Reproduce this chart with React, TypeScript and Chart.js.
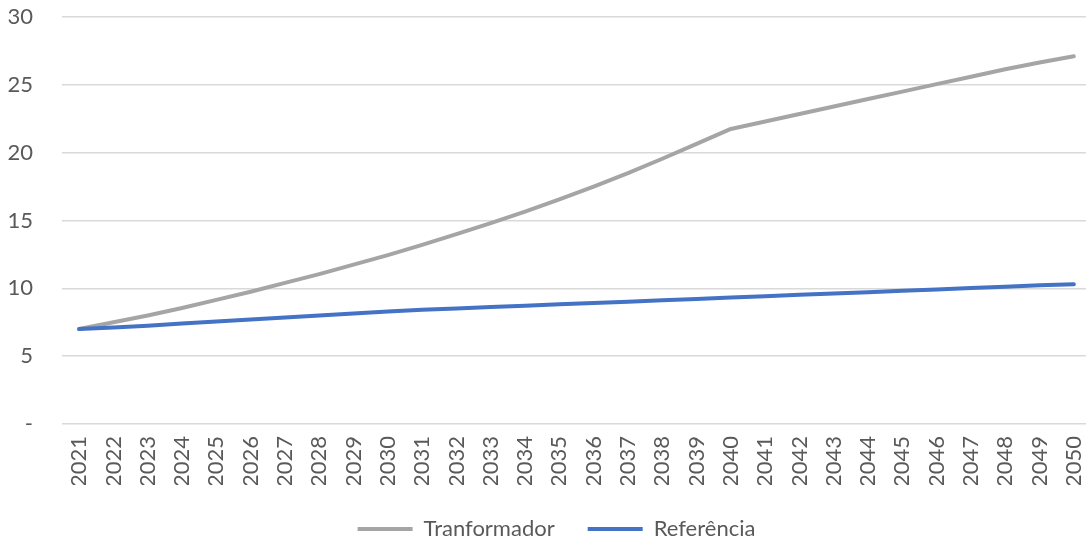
import React, { useEffect, useRef } from "react";
import { Chart, registerables } from "chart.js";

Chart.register(...registerables);

const years: string[] = [
  "2021", "2022", "2023", "2024", "2025", "2026", "2027", "2028", "2029", "2030",
  "2031", "2032", "2033", "2034", "2035", "2036", "2037", "2038", "2039", "2040",
  "2041", "2042", "2043", "2044", "2045", "2046", "2047", "2048", "2049", "2050",
];

const tranformador: number[] = [
  7.0, 7.5, 8.0, 8.55, 9.15, 9.75, 10.4, 11.05, 11.75, 12.45,
  13.2, 14.0, 14.8, 15.65, 16.55, 17.5, 18.5, 19.55, 20.65, 21.75,
  22.3, 22.85, 23.4, 23.95, 24.5, 25.05, 25.6, 26.15, 26.65, 27.1,
];

const referencia: number[] = [
  7.0, 7.12, 7.25, 7.4, 7.55, 7.7, 7.85, 8.0, 8.15, 8.3,
  8.42, 8.52, 8.62, 8.72, 8.82, 8.92, 9.02, 9.12, 9.22, 9.32,
  9.42, 9.52, 9.62, 9.72, 9.82, 9.92, 10.02, 10.12, 10.22, 10.3,
];

const seriesNames: string[] = ["Tranformador", "Referência"];

const TEXT = "#595959";
const FONT = "Lato";

const legendShift = {
  id: "legendShift",
  beforeDraw(chart: any) {
    const lg = chart.legend;
    if (lg && !lg._shifted) {
      lg.left += 11;
      lg.right += 11;
      lg._shifted = true;
    }
  },
};

export default function App() {
  const ref = useRef<HTMLCanvasElement | null>(null);

  useEffect(() => {
    if (!ref.current) return;
    const chart = new Chart(ref.current, {
      type: "line",
      data: {
        labels: years,
        datasets: [
          {
            label: seriesNames[0],
            data: tranformador,
            borderColor: "#A5A5A5",
            backgroundColor: "#A5A5A5",
            borderWidth: 4,
            pointRadius: 0,
            tension: 0,
            borderCapStyle: "round",
            borderJoinStyle: "round",
            order: 1,
          },
          {
            label: seriesNames[1],
            data: referencia,
            borderColor: "#4472C4",
            backgroundColor: "#4472C4",
            borderWidth: 4,
            pointRadius: 0,
            tension: 0,
            borderCapStyle: "round",
            borderJoinStyle: "round",
            order: 0,
          },
        ],
      },
      options: {
        responsive: false,
        animation: false,
        layout: { padding: { top: 17, left: 0, right: 0, bottom: 0 } },
        scales: {
          x: {
            offset: true,
            grid: { display: false, drawTicks: false },
            border: { display: false },
            ticks: {
              color: TEXT,
              font: { family: FONT, size: 22 },
              minRotation: 90,
              maxRotation: 90,
              autoSkip: false,
              padding: 12,
            },
            afterFit: (s: any) => {
              s.height = 61;
              s.paddingLeft = 0;
              s.paddingRight = 0;
              s.paddingTop = 0;
              s.paddingBottom = 0;
            },
          },
          y: {
            min: 0,
            max: 30,
            grid: { color: "#D9D9D9", lineWidth: 1.5, drawTicks: false },
            border: { display: false },
            ticks: {
              stepSize: 5,
              color: TEXT,
              font: { family: FONT, size: 22 },
              padding: 29,
              callback: (v: any) => (Number(v) === 0 ? "-" : String(v)),
            },
            afterFit: (s: any) => {
              s.width = 62;
              s.paddingLeft = 0;
              s.paddingRight = 0;
              s.paddingTop = 0;
              s.paddingBottom = 0;
            },
          },
        },
        plugins: {
          tooltip: { enabled: false },
          legend: {
            position: "bottom",
            labels: {
              color: TEXT,
              font: { family: FONT, size: 22 },
              boxWidth: 55,
              boxHeight: 4,
              padding: 33,
              generateLabels: (c: any) =>
                Chart.defaults.plugins.legend.labels
                  .generateLabels(c)
                  .map((l: any) => ({ ...l, lineWidth: 0, fillStyle: l.strokeStyle }))
                  .sort((a: any, b: any) => a.datasetIndex - b.datasetIndex),
            },
          },
        },
      },
      plugins: [legendShift],
    });
    return () => chart.destroy();
  }, []);

  return (
    <div
      style={{
        position: "absolute",
        left: 0,
        top: 0,
        width: 1086,
        height: 545,
        overflow: "hidden",
        background: "#fff",
      }}
    >
      <canvas ref={ref} width={1091} height={550} style={{ display: "block" }} />
    </div>
  );
}
